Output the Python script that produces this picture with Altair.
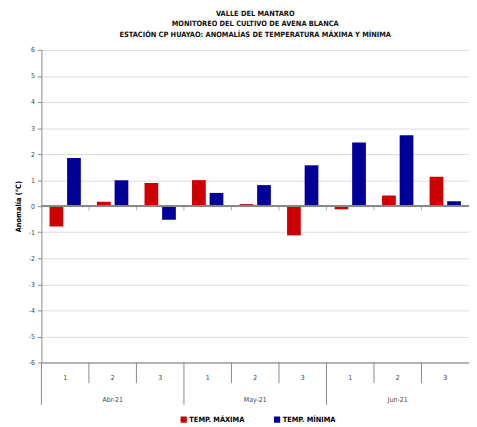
import altair as alt
import pandas as pd

months = ["Abr-21", "May-21", "Jun-21"]
weeks = ["1", "2", "3"]
series = ["TEMP. MÁXIMA", "TEMP. MÍNIMA"]
tmax = [-0.78, 0.17, 0.89, 1.00, 0.08, -1.12, -0.12, 0.41, 1.13]
tmin = [1.85, 1.00, -0.52, 0.51, 0.81, 1.57, 2.45, 2.72, 0.19]
colors = ["#CC0000", "#000099"]
title_lines = ["VALLE DEL MANTARO", "MONITOREO DEL CULTIVO DE AVENA BLANCA",
               "ESTACIÓN CP HUAYAO: ANOMALÍAS DE TEMPERATURA MÁXIMA Y MÍNIMA"]

keys = [f"{m}_{w}" for m in months for w in weeks]
rows = []
for i, k in enumerate(keys):
    rows.append({"key": k, "serie": series[0], "val": tmax[i]})
    rows.append({"key": k, "serie": series[1], "val": tmin[i]})
df = pd.DataFrame(rows)

sep = pd.DataFrame({"key": keys, "idx": list(range(len(keys)))})
mon = pd.DataFrame({"key": [f"{m}_2" for m in months], "mes": months})

W, H = 435, 318
FONT = "Liberation Sans Narrow, DejaVu Sans Condensed, Arial, sans-serif"

xs = alt.Scale(domain=keys, paddingInner=0, paddingOuter=0)
ys = alt.Scale(domain=[-6, 6], nice=False)
yaxis = alt.Axis(tickCount=12, tickMinStep=1, labelOverlap=False,
                 labelExpr="'' + datum.value", grid=True,
                 tickSize=4, tickColor="#888",
                 domainColor="#888", labelFontSize=7, labelColor="#444",
                 labelPadding=3, gridColor="#DCDCDC", titleFontSize=7.5,
                 titleFont=FONT, titleFontWeight="bold", titlePadding=6,
                 labelFont=FONT)

bars = alt.Chart(df).mark_bar().encode(
    x=alt.X("key:N", scale=xs, sort=keys, title=None,
            axis=alt.Axis(labelExpr="split(datum.label,'_')[1]", ticks=False,
                          labelAngle=0, labelPadding=11, labelFontSize=7,
                          labelColor="#444", domainColor="#777", labelFont=FONT)),
    xOffset=alt.XOffset("serie:N", sort=series,
                        scale=alt.Scale(paddingInner=0.22, paddingOuter=0.46)),
    y=alt.Y("val:Q", scale=ys, title="Anomalía (°C)", axis=yaxis),
    color=alt.Color("serie:N", sort=series,
                    scale=alt.Scale(domain=series, range=colors),
                    legend=alt.Legend(title=None, orient="none", legendX=141, legendY=372,
                                      direction="horizontal", symbolType="square",
                                      symbolSize=40, labelFontSize=7.5, labelFont=FONT,
                                      labelFontWeight="bold", columnPadding=29,
                                      symbolStrokeWidth=0, labelOffset=2)),
)

zero = alt.Chart(sep).mark_rule(color="#888", strokeWidth=1).encode(
    y=alt.Y(datum=0, scale=ys, axis=yaxis, title="Anomalía (°C)")
)
zticks = alt.Chart(sep).transform_filter("datum.idx > 0").mark_tick(
    orient="vertical", size=4, thickness=1, color="#888", yOffset=2
).encode(x=alt.X("key:N", scale=xs, sort=keys, bandPosition=0),
         y=alt.Y(datum=0, scale=ys, axis=yaxis, title="Anomalía (°C)"))

short_sep = alt.Chart(sep).transform_filter("datum.idx % 3 != 0").mark_rule(
    color="#888", strokeWidth=1
).encode(x=alt.X("key:N", scale=xs, sort=keys, bandPosition=0),
         y=alt.value(H), y2=alt.value(H + 21))
long_sep = alt.Chart(sep).transform_filter("datum.idx % 3 == 0").mark_rule(
    color="#888", strokeWidth=1
).encode(x=alt.X("key:N", scale=xs, sort=keys, bandPosition=0),
         y=alt.value(H), y2=alt.value(H + 43))

mon_txt = alt.Chart(mon).mark_text(fontSize=7, color="#444", font=FONT,
                                   baseline="middle").encode(
    x=alt.X("key:N", scale=xs, sort=keys, bandPosition=0.5),
    y=alt.value(H + 38), text="mes:N")

chart = alt.layer(bars, zero, zticks, short_sep, long_sep, mon_txt).properties(
    width=W, height=H,
    autosize=alt.AutoSizeParams(type="none"),
    padding={"left": 34, "top": 39, "right": 0, "bottom": 62},
    title=alt.TitleParams(text=title_lines, fontSize=7.5, font=FONT, fontWeight="bold",
                          lineHeight=10.5, anchor="middle", offset=8, color="#111"),
).configure_view(stroke=None).configure_axis(labelFont=FONT)

chart.save("out.html", embed_options={"renderer": "svg", "actions": False})
